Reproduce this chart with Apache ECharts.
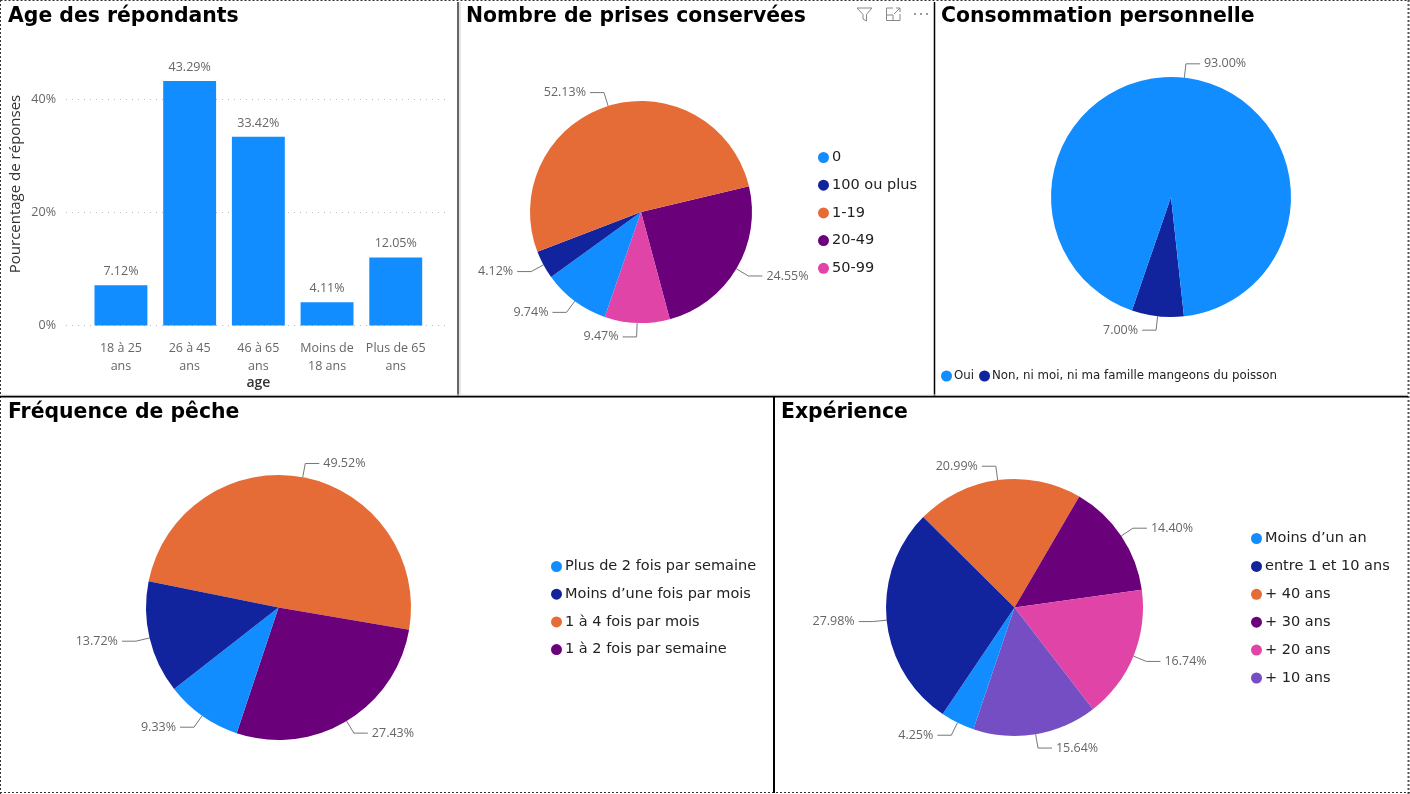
<!DOCTYPE html>
<html>
<head>
<meta charset="utf-8">
<style>html,body{margin:0;padding:0;background:#fff;overflow:hidden}#c{width:1410px;height:794px}</style>
<script src="https://cdn.jsdelivr.net/npm/echarts@6/dist/echarts.min.js"></script>
</head>
<body>
<div id="c"></div>
<script>
var ageCats = ['18 à 25\nans','26 à 45\nans','46 à 65\nans','Moins de\n18 ans','Plus de 65\nans'];
var ageVals = [7.12,43.29,33.42,4.11,12.05];
var yTicks = [0,20,40];

var prisesNames = ['20-49','50-99','0','100 ou plus','1-19'];
var prisesVals = [24.55,9.47,9.74,4.12,52.13];
var prisesLegend = ['0','100 ou plus','1-19','20-49','50-99'];

var consoNames = ['Non, ni moi, ni ma famille mangeons du poisson','Oui'];
var consoVals = [7.00,93.00];
var consoLegend = ['Oui','Non, ni moi, ni ma famille mangeons du poisson'];

var freqNames = ['1 à 4 fois par mois','1 à 2 fois par semaine','Plus de 2 fois par semaine','Moins d’une fois par mois'];
var freqVals = [49.52,27.43,9.33,13.72];
var freqLegend = ['Plus de 2 fois par semaine','Moins d’une fois par mois','1 à 4 fois par mois','1 à 2 fois par semaine'];

var expNames = ['+ 40 ans','+ 30 ans','+ 20 ans','+ 10 ans','Moins d’un an','entre 1 et 10 ans'];
var expVals = [20.99,14.40,16.74,15.64,4.25,27.98];
var expLegend = ['Moins d’un an','entre 1 et 10 ans','+ 40 ans','+ 30 ans','+ 20 ans','+ 10 ans'];

var BLUE='#118DFF',NAVY='#12239E',ORANGE='#E66C37',PURPLE='#6B007B',PINK='#E044A7',VIOLET='#744EC2';
var LABELFONT='"Open Sans", sans-serif', HEADFONT='"DejaVu Sans", sans-serif';

function pie(names, vals, colors, center, radius, start){
  return {
    type:'pie', center:center, radius:radius, startAngle:start, clockwise:true,
    avoidLabelOverlap:false, silent:true, animation:false,
    label:{show:true,position:'outside',color:'#666',fontSize:12.5,fontFamily:LABELFONT,
      formatter:function(p){return p.value.toFixed(2)+'%';},distanceToLabelLine:4},
    labelLine:{show:true,length:14,length2:14,smooth:false,lineStyle:{color:'#777',width:1}},
    itemStyle:{borderColor:'#fff',borderWidth:0},
    data:names.map(function(n,i){return {name:n,value:vals[i],itemStyle:{color:colors[i]}};})
  };
}
function legend(data,left,top,orient,size,gap,pad){
  return {data:data,left:left,top:top,orient:orient,icon:'circle',itemWidth:11,itemHeight:11,itemGap:gap,padding:0,
    selectedMode:false,textStyle:{fontFamily:HEADFONT,fontSize:size,color:'#222',padding:[0,0,0,pad]}};
}
function title(t,left,top){
  return {text:t,left:left,top:top,padding:0,textStyle:{fontFamily:HEADFONT,fontWeight:'bold',fontSize:20.4,color:'#000'}};
}
function line(x1,y1,x2,y2,color,w,dash){
  return {type:'line',silent:true,z:50,shape:{x1:x1,y1:y1,x2:x2,y2:y2},style:{stroke:color,lineWidth:w,lineDash:dash||null}};
}

var option = {
  animation:false, backgroundColor:'#fff',
  title:[title('Age des répondants',8,7),title('Nombre de prises conservées',466,7),title('Consommation personnelle',941,7),
         title('Fréquence de pêche',8,403),title('Expérience',781,403)],
  legend:[legend(prisesLegend,818,150,'vertical',14.5,12.7,-2),
          legend(consoLegend,941,370,'horizontal',11.8,5,-3),
          legend(freqLegend,551,559,'vertical',14.5,12.7,-2),
          legend(expLegend,1251,531,'vertical',14.5,12.9,-2)],
  grid:[{left:66,width:381,top:43,height:282.5},
        {left:86.6,width:343.5,top:43,height:282.5}],
  xAxis:[{gridIndex:0,type:'category',show:false,data:ageCats},
         {gridIndex:1,type:'category',data:ageCats,axisLine:{show:false},axisTick:{show:false},
          name:'age',nameLocation:'middle',nameGap:51,
          nameTextStyle:{fontFamily:LABELFONT,fontSize:14,fontWeight:600,color:'#333'},
          axisLabel:{color:'#666',fontSize:12.5,fontFamily:LABELFONT,lineHeight:18,margin:14,interval:0}}],
  yAxis:[{gridIndex:0,type:'value',min:0,max:50,axisLine:{show:false},
          axisTick:{show:false,customValues:yTicks},
          axisLabel:{color:'#666',fontSize:12.5,fontFamily:LABELFONT,margin:10,customValues:yTicks,
            formatter:function(v){return v+'%';}},
          splitLine:{show:true,lineStyle:{type:[1,5],color:'#bbb',width:1}}},
         {gridIndex:1,type:'value',min:0,max:50,show:false}],
  series:[
    {type:'bar',xAxisIndex:1,yAxisIndex:1,data:ageVals,barCategoryGap:'23%',silent:true,
     itemStyle:{color:BLUE},
     label:{show:true,position:'top',distance:7,color:'#666',fontSize:12.5,fontFamily:LABELFONT,
       formatter:function(p){return p.value.toFixed(2)+'%';}}},
    pie(prisesNames,prisesVals,[PURPLE,PINK,BLUE,NAVY,ORANGE],[641,212],111,13.4),
    pie(consoNames,consoVals,[NAVY,BLUE],[1171,197],120,276.2),
    pie(freqNames,freqVals,[ORANGE,PURPLE,BLUE,NAVY],[278.5,607.5],132.5,168.6),
    pie(expNames,expVals,[ORANGE,PURPLE,PINK,VIOLET,BLUE,NAVY],[1014.5,607.5],128.5,135.3)
  ],
  graphic:[
    {type:'text',silent:true,rotation:Math.PI/2,x:16,y:184,
     style:{text:'Pourcentage de réponses',align:'center',verticalAlign:'middle',fill:'#333',fontSize:15,fontFamily:LABELFONT}},
    line(0.5,0.5,1409.5,0.5,'#333',1,[2,2]),
    line(0.5,0,0.5,794,'#333',1,[2,2]),
    line(1408.5,0,1408.5,794,'#555',2,[2,2]),
    line(0,792.5,1410,792.5,'#333',1,[2,2]),
    line(458,2,458,396,'#666',2),
    line(460,2,460,395,'#e6e6e6',2),
    line(934.5,2,934.5,396,'#000',1.5),
    line(0,395,1408,395,'#e6e6e6',1),
    line(0,396.7,1408,396.7,'#000',1.8),
    line(774,397,774,793,'#000',2),
    {type:'polyline',silent:true,z:50,shape:{points:[[857,8],[872,8],[866.5,14.5],[866.5,21],[863,19],[863,14.5],[857,8]]},style:{fill:null,stroke:'#888',lineWidth:1}},
    {type:'polyline',silent:true,z:50,shape:{points:[[893,8],[886.5,8],[886.5,20.5],[900,20.5],[900,14]]},style:{fill:null,stroke:'#888',lineWidth:1}},
    {type:'polyline',silent:true,z:50,shape:{points:[[886.5,15],[893,15],[893,20.5]]},style:{fill:null,stroke:'#888',lineWidth:1}},
    {type:'polyline',silent:true,z:50,shape:{points:[[894,14],[900,8]]},style:{fill:null,stroke:'#888',lineWidth:1}},
    {type:'polyline',silent:true,z:50,shape:{points:[[896,8],[900,8],[900,12]]},style:{fill:null,stroke:'#888',lineWidth:1}},
    {type:'circle',silent:true,z:50,shape:{cx:915,cy:14,r:1},style:{fill:'#777'}},
    {type:'circle',silent:true,z:50,shape:{cx:921,cy:14,r:1},style:{fill:'#777'}},
    {type:'circle',silent:true,z:50,shape:{cx:927,cy:14,r:1},style:{fill:'#777'}}
  ]
};
var chart = echarts.init(document.getElementById('c'),null,{renderer:'canvas'});
chart.setOption(option);
</script>
</body>
</html>
